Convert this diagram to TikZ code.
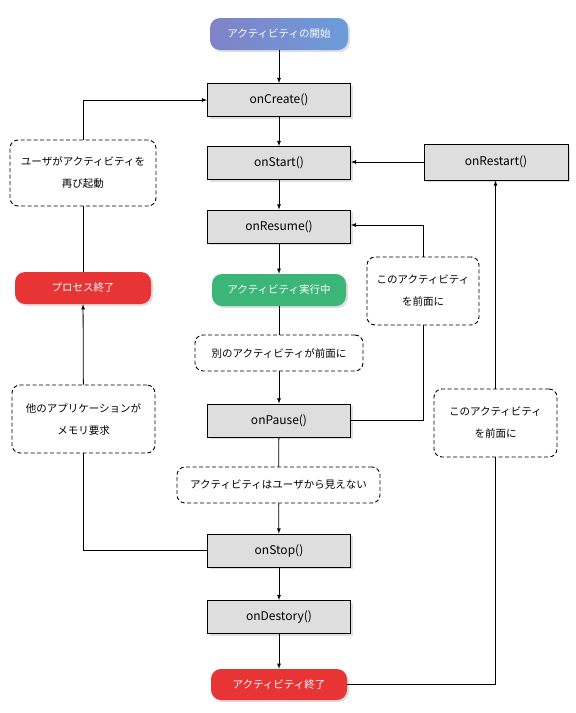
\documentclass[tikz,border=0pt]{standalone}
\usepackage{fontspec}
\newfontfamily\jpfont{Noto Sans CJK JP}
\usepackage{tikz}
\usetikzlibrary{shadows}
\usepackage{xcolor}
\definecolor{pillblueA}{RGB}{128,130,200}
\definecolor{pillblueB}{RGB}{108,156,218}
\definecolor{pillgreen}{RGB}{60,182,120}
\definecolor{pillred}{RGB}{232,52,52}

\begin{document}
\begin{tikzpicture}[x=1pt, y=-1pt]
        % ================= スタイル定義 =================
        \tikzset{
            % メソッドの箱:灰色の地に黒い枠
            method/.style={draw=black, thick, fill=black!13, minimum width=143pt, minimum height=33pt, inner sep=0pt,
                drop shadow={shadow xshift=2pt, shadow yshift=-2pt, fill=black!25},
                font=\jpfont\fontsize{12}{14}\selectfont},
            % 状態の丸い帯
            pill/.style={rounded corners=10pt, minimum width=136pt, minimum height=32pt, inner sep=0pt, text=white,
                drop shadow={shadow xshift=2pt, shadow yshift=-2pt, fill=black!25},
                font=\jpfont\fontsize{10.5}{13}\selectfont},
            % 破線の説明
            note/.style={draw=black, line width=0.9pt, dash pattern=on 4pt off 2.5pt, rounded corners=8pt, fill=white,
                inner sep=0pt, align=center, font=\jpfont\fontsize{10.5}{22}\selectfont},
            flow/.style={-latex, thick, black},
            link/.style={thick, black}
        }

        \useasboundingbox (0,0) rectangle (576,713);

        % ================= 中央の流れ =================
        \node[pill, left color=pillblueA, right color=pillblueB, minimum width=138pt] (start) at (279,34) {アクティビティの開始};
        \node[method] (onCreate) at (279,100) {onCreate()};
        \node[method] (onStart) at (279,163) {onStart()};
        \node[method] (onResume) at (279,226.5) {onResume()};
        \node[pill, fill=pillgreen, minimum width=134pt] (running) at (279,290) {アクティビティ実行中};
        \node[note, minimum width=168pt, minimum height=36pt] (otherfront) at (279,353) {別のアクティビティが前面に};
        \node[method] (onPause) at (279,420.5) {onPause()};
        \node[note, minimum width=203pt, minimum height=36pt] (hidden) at (278.5,485) {アクティビティはユーザから見えない};
        \node[method] (onStop) at (279,550.5) {onStop()};
        \node[method] (onDestory) at (279,617) {onDestory()};
        \node[pill, fill=pillred, minimum height=31pt] (finish) at (279,684.5) {アクティビティ終了};

        \draw[flow] (start) -- (onCreate);
        \draw[flow] (onCreate) -- (onStart);
        \draw[flow] (onStart) -- (onResume);
        \draw[flow] (onResume) -- (running);
        \draw[link] (running) -- (otherfront);
        \draw[flow] (otherfront) -- (onPause);
        \draw[link] (onPause) -- (hidden);
        \draw[flow] (hidden) -- (onStop);
        \draw[flow] (onStop) -- (onDestory);
        \draw[flow] (onDestory) -- (finish);

        % ================= 左側:プロセス終了から再起動 =================
        \node[note, minimum width=146pt, minimum height=66pt] (userrestart) at (83,173) {ユーザがアクティビティを\\再び起動};
        \node[pill, fill=pillred] (killed) at (83,288) {プロセス終了};
        \node[note, minimum width=143pt, minimum height=68pt] (memory) at (83.5,419) {他のアプリケーションが\\メモリ要求};

        \draw[link] (onStop.west) -| (memory.south);
        \draw[flow] (memory) -- (killed);
        \draw[link] (killed) -- (userrestart);
        \draw[flow] (userrestart.north) |- (onCreate.west);

        % ================= 右側:onRestart と前面に戻る =================
        \node[method, minimum width=144pt, minimum height=36pt] (onRestart) at (496,162) {onRestart()};
        \node[note, minimum width=112pt, minimum height=68pt] (backfront) at (423,291) {このアクティビティ\\を前面に};
        \node[note, minimum width=123pt, minimum height=68pt] (restartfront) at (495.5,423) {このアクティビティ\\を前面に};

        \draw[link] (onPause.east) -| (backfront.south);
        \draw[flow] (backfront.north) |- ([yshift=1.5pt]onResume.east);
        \draw[link] (finish.east) -| (restartfront.south);
        \draw[flow] (restartfront.north) -- (restartfront.north |- onRestart.south);
        \draw[flow] (onRestart.west) -- (onRestart.west -| onStart.east);

    \end{tikzpicture}
\end{document}
